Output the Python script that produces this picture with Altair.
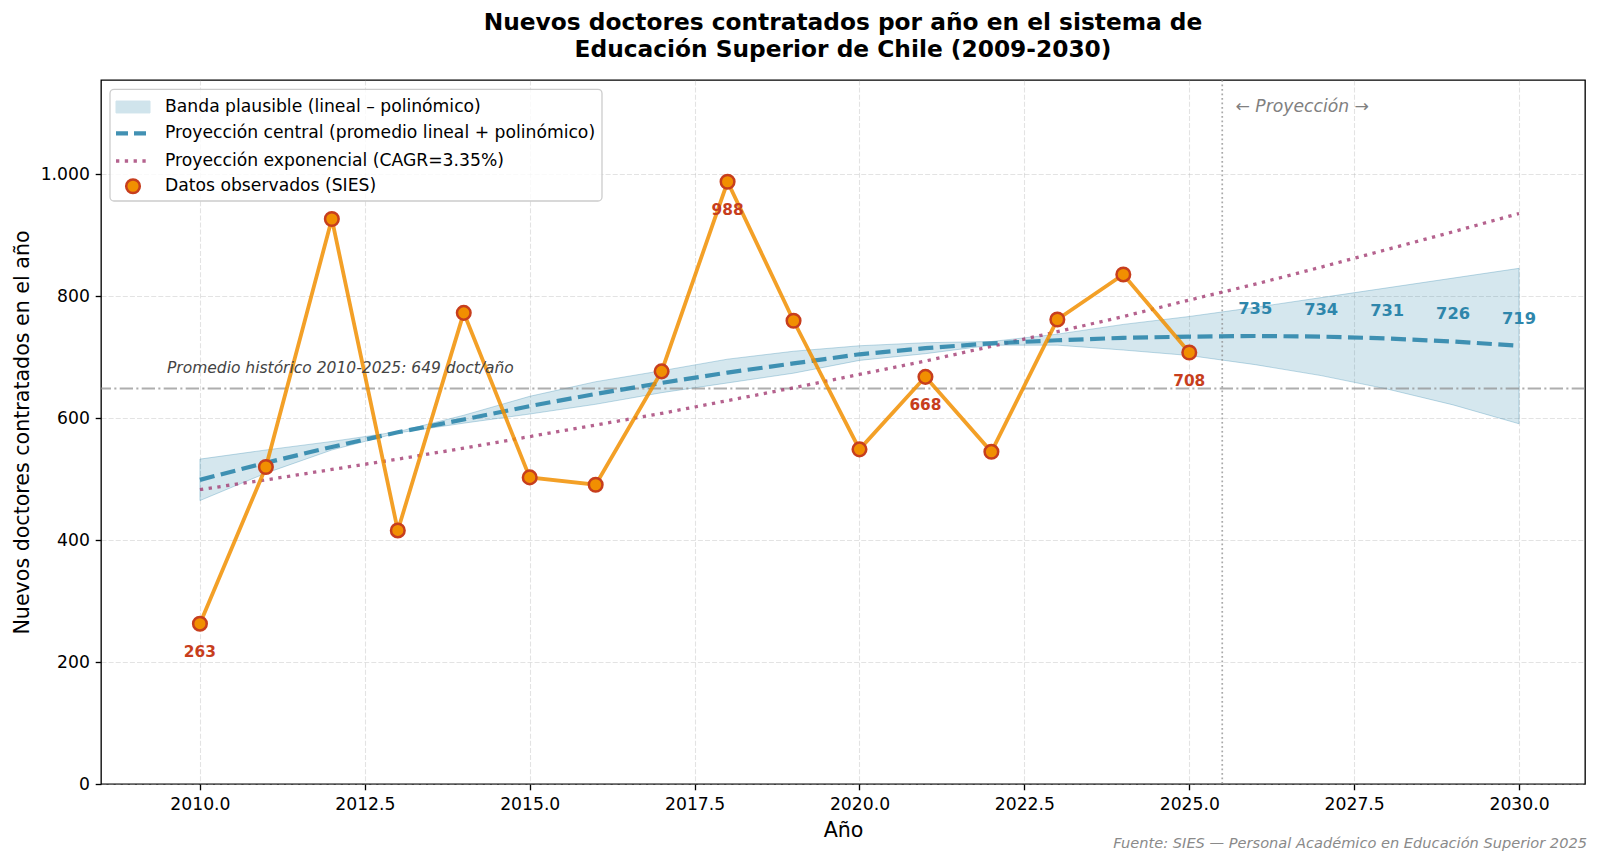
import altair as alt
import pandas as pd

# ---------------- data ----------------
YEARS_OBS = list(range(2010, 2026))
OBS = [263, 520, 927, 416, 773, 503, 491, 677, 988, 760, 549, 668, 545, 762, 836, 708]
LABEL_YEARS = [2010, 2018, 2021, 2025]

YEARS_PROJ = list(range(2010, 2031))
CENTRAL = [499, 527, 553, 577, 598, 620, 640, 658, 675, 690, 705, 715, 723, 728, 732, 734,
           735, 734, 731, 726, 719]
BAND_LOW = [465, 510, 548, 576, 592, 607, 623, 642, 658, 674, 695, 706, 720, 720, 712, 703,
            688, 670, 648, 622, 591]
BAND_HIGH = [533, 548, 562, 578, 605, 636, 660, 678, 697, 710, 719, 724, 726, 738, 754, 767,
             782, 798, 814, 830, 846]
EXPO = [483, 499, 516, 533, 551, 570, 589, 608, 629, 650, 672, 694, 718, 742, 767, 794,
        820, 848, 877, 906, 936]
LABEL_PROJ_FROM = 2026
AVG = 649
CUT = 2025.5

X_TICKS = [2010, 2012.5, 2015, 2017.5, 2020, 2022.5, 2025, 2027.5, 2030]
Y_TICKS = [0, 200, 400, 600, 800, 1000]

LAB_BAND = "Banda plausible (lineal – polinómico)"
LAB_CENT = "Proyección central (promedio lineal + polinómico)"
LAB_EXPO = "Proyección exponencial (CAGR=3.35%)"
LAB_OBS = "Datos observados (SIES)"

obs = pd.DataFrame({"anio": YEARS_OBS, "valor": OBS})
proj = pd.DataFrame({"anio": YEARS_PROJ, "central": CENTRAL, "bajo": BAND_LOW,
                     "alto": BAND_HIGH, "expo": EXPO})

FONT = "DejaVu Sans"
LEG_FS = 17.2
XS = alt.Scale(domain=[2008.5, 2031], nice=False, zero=False)
YS = alt.Scale(domain=[0, 1155], nice=False, zero=True)


def xenc(first=False):
    if first:
        return alt.X("anio:Q", scale=XS,
                     axis=alt.Axis(title="Año", values=X_TICKS, format=".1f"))
    return alt.X("anio:Q", scale=XS)


def yenc(field, first=False):
    if first:
        return alt.Y(f"{field}:Q", scale=YS,
                     axis=alt.Axis(title="Nuevos doctores contratados en el año",
                                   values=Y_TICKS,
                                   labelExpr="replace(format(datum.value, ','), ',', '.')"))
    return alt.Y(f"{field}:Q", scale=YS)


def leg(x, y, offset, **kw):
    return alt.Legend(title=None, orient="none", legendX=x, legendY=y, padding=0,
                      labelOffset=offset, labelFont=FONT, labelFontSize=LEG_FS,
                      labelColor="black", labelLimit=900, **kw)


band = alt.Chart(proj).transform_calculate(serie=f"'{LAB_BAND}'").mark_area(
    fillOpacity=0.2, stroke="#2E86AB", strokeOpacity=0.3, strokeWidth=1
).encode(
    x=xenc(True), y=yenc("bajo", True), y2="alto:Q",
    fill=alt.Fill("serie:N", scale=alt.Scale(range=["#2E86AB"]),
                  legend=leg(14.5, 9.5, 14.5, symbolType="M-1,-0.35H1V0.35H-1Z",
                             symbolSize=1156, symbolOpacity=0.22,
                             symbolStrokeColor="#2E86AB", symbolStrokeWidth=1)),
)

avg_rule = alt.Chart(pd.DataFrame({"k": [0]})).mark_rule(
    color="#8c8c8c", strokeWidth=2, strokeDash=[13.3, 3.3, 2.1, 3.3], opacity=0.7
).encode(y=alt.datum(AVG, scale=YS))

cut_rule = alt.Chart(pd.DataFrame({"k": [0]})).mark_rule(
    color="#8c8c8c", strokeWidth=1.7, strokeDash=[1.7, 2.8], opacity=0.75
).encode(x=alt.datum(CUT, scale=XS))

expo = alt.Chart(proj).transform_calculate(serie=f"'{LAB_EXPO}'").mark_line(
    strokeWidth=3.3, strokeDash=[3.3, 5.5], opacity=0.8
).encode(
    x=xenc(), y=yenc("expo"),
    stroke=alt.Stroke("serie:N", scale=alt.Scale(range=["#A23B72"]),
                      legend=leg(13, 62, 13, symbolType="stroke", symbolSize=1156,
                                 symbolStrokeWidth=3.3, symbolDash=[3.3, 5.5],
                                 symbolOpacity=0.8)),
)

central = alt.Chart(proj).transform_calculate(serie=f"'{LAB_CENT}'").mark_line(
    strokeWidth=4.2, strokeDash=[15, 6.5], opacity=0.9
).encode(
    x=xenc(), y=yenc("central"),
    stroke=alt.Stroke("serie:N", scale=alt.Scale(range=["#2E86AB"]),
                      legend=leg(12.5, 33.8, 12.5, symbolType="stroke", symbolSize=1156,
                                 symbolStrokeWidth=4.2, symbolDash=[12, 6],
                                 symbolOpacity=0.9)),
)

obs_line = alt.Chart(obs).mark_line(color="#F18F01", strokeWidth=3.8, opacity=0.85).encode(
    x=xenc(), y=yenc("valor"))

points = alt.Chart(obs).transform_calculate(serie=f"'{LAB_OBS}'").mark_point(
    shape="circle", filled=True, size=185, opacity=1, stroke="#C73E1D", strokeWidth=2.5
).encode(
    x=xenc(), y=yenc("valor"),
    fill=alt.Fill("serie:N", scale=alt.Scale(range=["#F18F01"]),
                  legend=leg(23.4, 97.6, 23.4, symbolType="circle", symbolSize=185,
                             symbolOpacity=1, symbolStrokeColor="#C73E1D",
                             symbolStrokeWidth=2.5)),
)

red_labels = alt.Chart(obs).transform_filter(
    alt.FieldOneOfPredicate(field="anio", oneOf=LABEL_YEARS)
).mark_text(dy=28.6, font=FONT, fontWeight="bold", fontSize=15.4, color="#C73E1D").encode(
    x=xenc(), y=yenc("valor"), text=alt.Text("valor:Q", format="d"))

blue_labels = alt.Chart(proj).transform_filter(
    alt.datum.anio >= LABEL_PROJ_FROM
).mark_text(dy=-27, font=FONT, fontWeight="bold", fontSize=16.3, color="#2E86AB").encode(
    x=xenc(), y=yenc("central"), text=alt.Text("central:Q", format="d"))

avg_text = alt.Chart(pd.DataFrame({"k": [0]})).mark_text(
    text=f"Promedio histórico 2010-2025: {AVG} doct/año", align="left", baseline="bottom",
    dy=-12, font=FONT, fontStyle="italic", fontSize=15.5, color="#444444"
).encode(x=alt.datum(2009.5, scale=XS), y=alt.datum(AVG, scale=YS))

proj_text = alt.Chart(pd.DataFrame({"k": [0]})).mark_text(
    text="← Proyección →", align="left", baseline="middle",
    font=FONT, fontStyle="italic", fontSize=17.2, color="#808080"
).encode(x=alt.datum(2025.7, scale=XS), y=alt.datum(1110, scale=YS))

source_text = alt.Chart(pd.DataFrame({"k": [0]})).mark_text(
    text="Fuente: SIES — Personal Académico en Educación Superior 2025", align="right",
    baseline="middle", font=FONT, fontStyle="italic", fontSize=14.6, color="#8a8a8a"
).encode(x=alt.value(1486), y=alt.value(764))

legend_box = alt.Chart(pd.DataFrame({"k": [0]})).mark_rect(
    fill="white", fillOpacity=0.8, stroke="#cccccc", strokeWidth=1.3, cornerRadius=4
).encode(x=alt.value(9), x2=alt.value(501), y=alt.value(9.4), y2=alt.value(121))

chart = alt.layer(
    band, avg_rule, cut_rule, expo, central, obs_line, points,
    red_labels, blue_labels, avg_text, proj_text, source_text, legend_box
).resolve_scale(
    fill="independent", stroke="independent"
).properties(
    width=1484, height=704,
    padding={"left": 93, "top": 72, "right": 7, "bottom": 72},
    autosize=alt.AutoSizeParams(type="none"),
    title=alt.TitleParams(
        text=["Nuevos doctores contratados por año en el sistema de",
              "Educación Superior de Chile (2009-2030)"],
        font=FONT, fontSize=23.3, fontWeight="bold", color="black",
        anchor="middle", frame="group", baseline="bottom", offset=16, dy=22.5,
        lineHeight=27),
).configure_view(
    stroke="black", strokeWidth=1.33
).configure_axis(
    domain=False, labelFont=FONT, labelFontSize=17.2, labelColor="black",
    titleFont=FONT, titleFontSize=20.6, titleFontWeight="normal", titleColor="black",
    tickColor="black", tickWidth=1.33, tickSize=5.8, labelPadding=5.8, titlePadding=8,
    grid=True, gridColor="#b0b0b0", gridOpacity=0.35, gridDash=[5, 2.1], gridWidth=1.1,
).configure_axisX(labelFlush=False).configure_axisY(labelFlush=False)

chart.save("out.html", embed_options={"renderer": "svg", "actions": False})
